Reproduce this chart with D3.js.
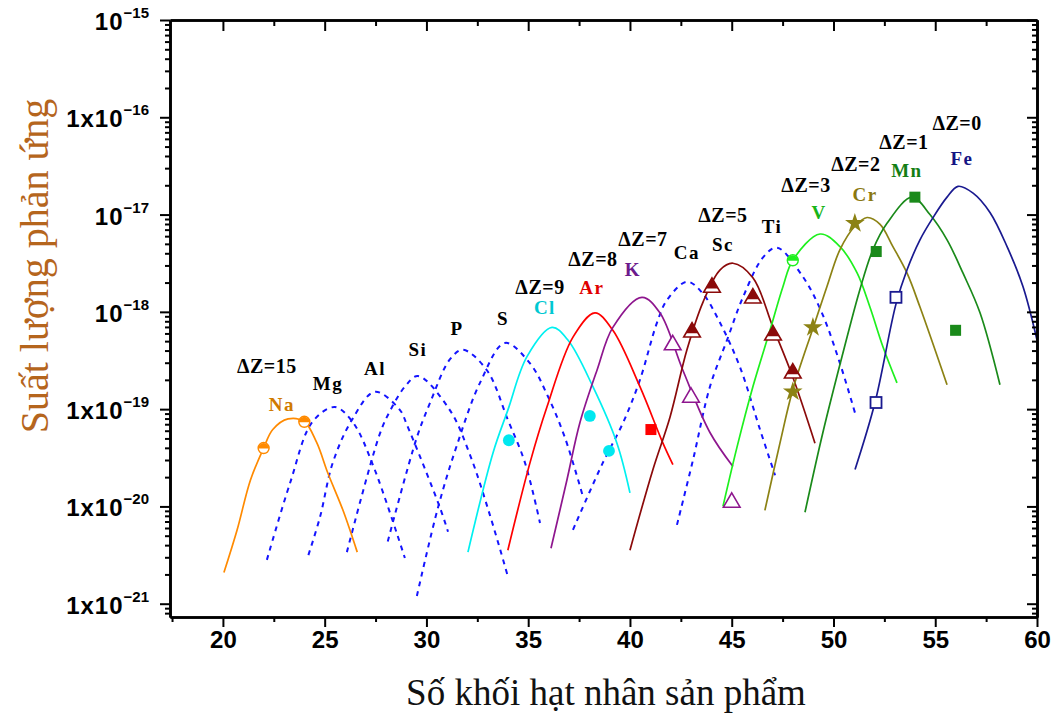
<!DOCTYPE html>
<html><head><meta charset="utf-8">
<script src="https://cdn.jsdelivr.net/npm/d3@7/dist/d3.min.js"></script>
<style>body{margin:0;background:#fff}</style>
</head><body><svg id="c" width="1056" height="722" xmlns="http://www.w3.org/2000/svg"></svg>
<script>
// ---------- data (mass number A, yield) ----------
const massTicks = [20, 25, 30, 35, 40, 45, 50, 55, 60];
const massMinorTicks = [17.5, 22.5, 27.5, 32.5, 37.5, 42.5, 47.5, 52.5, 57.5];
const yieldTicks = [1e-21, 1e-20, 1e-19, 1e-18, 1e-17, 1e-16, 1e-15];
const yieldTickPrefix = ["1x10", "1x10", "1x10", "10", "10", "1x10", "10"];
const yieldTickExp = ["\u221221", "\u221220", "\u221219", "\u221218", "\u221217", "\u221216", "\u221215"];

const curveNa = [[20.05,2.09e-21],[20.7,5.75e-21],[21.35,1.86e-20],[22.0,3.98e-20],[22.45,6.17e-20],[23.2,7.94e-20],[24.0,7.41e-20],[24.6,4.57e-20],[25.16,2.19e-20],[25.9,9.12e-21],[26.6,3.39e-21]];
const curveMg = [[22.16,2.82e-21],[23.3,1.74e-20],[24.4,7.41e-20],[25.5,1.05e-19],[26.4,7.24e-20],[27.4,2.57e-20],[28.94,2.95e-21]];
const curveAl = [[24.2,3.16e-21],[24.77,7.76e-21],[25.4,2.82e-20],[26.34,7.76e-20],[27.47,1.51e-19],[28.7,9.77e-20],[29.04,6.9e-20],[30.66,9.77e-21],[31.06,5.5e-21]];
const curveSi = [[26.09,3.39e-21],[27.7,5.5e-20],[28.2,9.5e-20],[28.94,1.7e-19],[29.58,2.19e-19],[31.15,9.77e-20],[32.14,3.39e-20],[33.12,8.13e-21],[34.0,1.91e-21]];
const curveP  = [[28.1,4.37e-21],[29.53,5.13e-20],[30.17,1.15e-19],[31.15,3.24e-19],[31.79,4.07e-19],[32.97,2.51e-19],[34.0,7.76e-20],[34.84,2.82e-20],[35.58,6.76e-21]];
const curveS  = [[29.53,1.2e-21],[30.57,9.77e-21],[31.5,4.27e-20],[32.63,1.86e-19],[33.86,4.79e-19],[35.09,2.95e-19],[35.97,1.35e-19],[36.8,5.13e-20],[37.69,1.26e-20]];
const curveCl = [[32.04,3.39e-21],[33.27,3.55e-20],[34.0,9.77e-20],[34.94,3.47e-19],[36.17,6.92e-19],[36.95,5.13e-19],[38.18,1.70e-19],[39.36,4.47e-20],[40.0,1.38e-20]];
const curveAr = [[34.0,3.55e-21],[35.09,2.82e-20],[35.92,1.05e-19],[37.2,5.5e-19],[38.28,9.77e-19],[39.16,6.46e-19],[40.49,1.70e-19],[41.62,4.47e-20],[42.11,2.69e-20]];
const curveK  = [[36.12,3.72e-21],[36.9,1.86e-20],[37.54,7.24e-20],[38.38,2.51e-19],[39.16,6.92e-19],[40.59,1.41e-18],[41.47,9.77e-19],[42.6,2.51e-19],[43.93,5.75e-20],[45.06,2.57e-20]];
const curveCa = [[37.2,5.75e-21],[38.67,2.82e-20],[39.66,7.24e-20],[40.49,2.0e-19],[41.33,7.76e-19],[41.82,1.32e-18],[42.8,2.04e-18],[43.54,1.58e-18],[44.42,7.76e-19],[45.41,2.69e-19],[46.39,6.17e-20],[47.13,2.09e-20]];
const curveSc = [[40.0,3.55e-21],[41.13,2.40e-20],[41.97,8.32e-20],[42.8,4.07e-19],[43.59,1.26e-18],[44.42,2.69e-18],[45.06,3.16e-18],[46.04,2.24e-18],[47.03,6.92e-19],[48.0,2.14e-19],[49.09,4.47e-20]];
const curveTi = [[42.31,6.46e-21],[43.1,3.02e-20],[43.93,1.70e-19],[44.77,5.13e-19],[45.55,1.41e-18],[46.54,3.63e-18],[47.22,4.57e-18],[48.5,2.29e-18],[49.43,9.77e-19],[50.32,2.95e-19],[51.06,9.12e-20]];
const curveV  = [[44.57,1.0e-20],[45.26,4.07e-20],[46.04,1.70e-19],[46.88,6.46e-19],[47.52,1.82e-18],[48.0,3.39e-18],[49.34,6.31e-18],[50.32,4.68e-18],[51.16,2.51e-18],[51.79,1.12e-18],[52.43,4.37e-19],[53.12,1.86e-19]];
const curveCr = [[46.63,9.12e-21],[47.37,4.47e-20],[48.0,1.58e-19],[48.99,6.76e-19],[49.68,1.82e-18],[50.32,4.37e-18],[51.05,7.59e-18],[51.65,9.33e-18],[52.29,7.94e-18],[52.92,4.68e-18],[53.61,2.51e-18],[54.25,1.12e-18],[55.58,1.78e-19]];
const curveMn = [[48.6,8.71e-21],[49.48,5.75e-20],[50.42,3.47e-19],[51.3,1.70e-18],[51.94,4.37e-18],[52.63,8.13e-18],[53.86,1.51e-17],[54.74,1.0e-17],[55.58,5.5e-18],[56.36,2.51e-18],[57.2,9.77e-19],[58.18,1.78e-19]];
const curveFe = [[51.06,2.40e-20],[52.04,1.17e-19],[53.07,1.2e-18],[53.61,2.69e-18],[54.25,5.5e-18],[54.89,9.3e-18],[55.58,1.51e-17],[56.12,1.95e-17],[56.86,1.66e-17],[57.69,1.05e-17],[58.53,4.68e-18],[59.31,1.82e-18],[60.0,5.13e-19]];

const markersNa = [[22.0,3.98e-20],[24.0,7.41e-20]];
const markersCl = [[34.05,4.79e-20],[38.03,8.51e-20],[38.97,3.72e-20]];
const markersAr = [[41.03,6.17e-20]];
const markersK  = [[42.1,4.57e-19],[43.0,1.32e-19],[45.0,1.10e-20]];
const markersSc = [[43.05,6.17e-19],[44.03,1.78e-18],[46.04,1.38e-18],[47.03,5.75e-19],[48.0,2.34e-19]];
const markersV  = [[48.0,3.39e-18]];
const markersCr = [[51.05,8.13e-18],[48.99,6.92e-19],[48.0,1.51e-19]];
const markersMn = [[54.0,1.51e-17],[52.1,4.17e-18],[56.0,6.46e-19]];
const markersFe = [[53.07,1.41e-18],[52.09,1.17e-19]];

const dzLabels = [["\u0394Z=15",22.16,2.78e-19],["\u0394Z=9",35.58,1.78e-18],["\u0394Z=8",38.18,3.47e-18],["\u0394Z=7",40.64,5.62e-18],["\u0394Z=5",44.57,1.0e-17],["\u0394Z=3",48.65,2.0e-17],["\u0394Z=2",51.1,3.31e-17],["\u0394Z=1",53.46,5.62e-17],["\u0394Z=0",56.07,8.71e-17]];
const elementLabels = [["Na",22.9,1.12e-19],["Mg",25.16,1.86e-19],["Al",27.47,2.63e-19],["Si",29.58,4.07e-19],["P",31.5,6.76e-19],["S",33.76,8.51e-19],["Cl",35.82,1.12e-18],["Ar",38.13,1.78e-18],["K",40.15,2.75e-18],["Ca",42.8,4.07e-18],["Sc",44.57,5.0e-18],["Ti",46.98,7.59e-18],["V",49.29,1.05e-17],["Cr",51.55,1.62e-17],["Mn",53.61,2.82e-17],["Fe",56.31,3.8e-17]];

// ---------- styles ----------
const DASHBLUE = "#1414ff";
const series = [
  {data: curveMg, color: DASHBLUE, dash: true},
  {data: curveAl, color: DASHBLUE, dash: true},
  {data: curveSi, color: DASHBLUE, dash: true},
  {data: curveP,  color: DASHBLUE, dash: true},
  {data: curveS,  color: DASHBLUE, dash: true},
  {data: curveCa, color: DASHBLUE, dash: true},
  {data: curveTi, color: DASHBLUE, dash: true},
  {data: curveNa, color: "#ff8a00"},
  {data: curveCl, color: "#00f0f0"},
  {data: curveAr, color: "#ff0000"},
  {data: curveK,  color: "#8e168e"},
  {data: curveSc, color: "#8b0a0a"},
  {data: curveV,  color: "#1ef01e"},
  {data: curveCr, color: "#8c8214"},
  {data: curveMn, color: "#1a8a1a"},
  {data: curveFe, color: "#1a1a90"}
];
const markerSets = [
  {data: markersNa, color: "#ff8a00", shape: "halfCircle"},
  {data: markersCl, color: "#00e8f0", shape: "circle"},
  {data: markersAr, color: "#ff0000", shape: "square"},
  {data: markersK,  color: "#8e168e", shape: "openTriangle"},
  {data: markersSc, color: "#8b0a0a", shape: "halfTriangle"},
  {data: markersV,  color: "#1ef01e", shape: "halfCircle"},
  {data: markersCr, color: "#8c8214", shape: "star"},
  {data: markersMn, color: "#1a8a1a", shape: "square"},
  {data: markersFe, color: "#1a1a90", shape: "openSquare"}
];
const labelColor = {Na: "#d07a00", Cl: "#00c8d2", Ar: "#e00000", K: "#6c1a8c", V: "#18b418", Cr: "#8a7810", Mn: "#147e14", Fe: "#141484"};

// ---------- chart ----------
const svg = d3.select("#c");
const L = 170, R = 1037, T = 20, B = 617;
const x = d3.scaleLinear().domain([17.4, 60]).range([L, R]);
const y = d3.scaleLog().domain([7.3e-22, 1e-15]).range([B, T]);

svg.append("defs").append("clipPath").attr("id", "clip")
  .append("rect").attr("x", L).attr("y", T).attr("width", R - L).attr("height", B - T);

const line = d3.line().x(d => x(d[0])).y(d => y(d[1])).curve(d3.curveCatmullRom.alpha(0.5));
svg.append("g").attr("clip-path", "url(#clip)")
  .selectAll("path").data(series).join("path")
  .attr("d", s => line(s.data))
  .attr("fill", "none")
  .attr("stroke", s => s.color)
  .attr("stroke-width", s => s.dash ? 2 : 1.7)
  .attr("stroke-dasharray", s => s.dash ? "5,5" : null);

// markers
const mg = svg.append("g");
markerSets.forEach(set => {
  const g = mg.selectAll(null).data(set.data).join("g")
    .attr("transform", d => `translate(${x(d[0])},${y(d[1])})`);
  const c = set.color;
  if (set.shape === "halfCircle") {
    g.append("circle").attr("r", 5.5).attr("fill", "#fff").attr("stroke", c).attr("stroke-width", 1.4);
    g.append("path").attr("d", "M-5.5,0.5A5.5,5.5 0 0 1 5.5,0.5Z").attr("fill", c);
  } else if (set.shape === "circle") {
    g.append("path").attr("d", d3.symbol(d3.symbolCircle, 110)).attr("fill", c);
  } else if (set.shape === "square") {
    g.append("rect").attr("x", -5.5).attr("y", -5.5).attr("width", 11).attr("height", 11).attr("fill", c);
  } else if (set.shape === "openSquare") {
    g.append("rect").attr("x", -5.5).attr("y", -5.5).attr("width", 11).attr("height", 11)
      .attr("fill", "#fff").attr("stroke", c).attr("stroke-width", 1.8);
  } else if (set.shape === "openTriangle") {
    g.append("path").attr("d", d3.symbol(d3.symbolTriangle, 120)).attr("fill", "#fff")
      .attr("stroke", c).attr("stroke-width", 1.6);
  } else if (set.shape === "halfTriangle") {
    g.append("path").attr("d", d3.symbol(d3.symbolTriangle, 120)).attr("fill", "#fff")
      .attr("stroke", c).attr("stroke-width", 1.6);
    g.append("path").attr("d", "M0,-9.6L-6.2,1L6.2,1Z").attr("fill", c);
  } else if (set.shape === "star") {
    g.append("path").attr("d", d3.symbol(d3.symbolStar, 120)).attr("fill", c);
  }
});

// axes
const axG = svg.append("g");
function styleAxis(sel) {
  sel.select(".domain").attr("stroke", "#000").attr("stroke-width", 2.6);
  sel.selectAll(".tick line").attr("stroke", "#000").attr("stroke-width", 2);
}
axG.append("g").attr("transform", `translate(0,${B})`)
  .call(d3.axisBottom(x).tickValues(massMinorTicks).tickSize(5).tickSizeOuter(0).tickFormat(""))
  .call(styleAxis);
const xb = axG.append("g").attr("transform", `translate(0,${B})`)
  .call(d3.axisBottom(x).tickValues(massTicks).tickSize(10).tickSizeOuter(0).tickFormat(d => d))
  .call(styleAxis);
xb.selectAll(".tick text").attr("y", 14).attr("dy", "0.71em")
  .attr("font-family", "'Liberation Sans Narrow','Liberation Sans',Arial,sans-serif")
  .attr("font-weight", "bold").attr("font-size", 24).attr("fill", "#000");

axG.append("g").attr("transform", `translate(0,${T})`)
  .call(d3.axisTop(x).tickValues(massMinorTicks.filter(v => v > 18)).tickSize(-6).tickSizeOuter(0).tickFormat(""))
  .call(styleAxis);
axG.append("g").attr("transform", `translate(0,${T})`)
  .call(d3.axisTop(x).tickValues(massTicks).tickSize(-11).tickSizeOuter(0).tickFormat(""))
  .call(styleAxis);

const yMinor = y.ticks().filter(v => Math.abs(Math.log10(v) - Math.round(Math.log10(v))) > 1e-6);
axG.append("g").attr("transform", `translate(${L},0)`)
  .call(d3.axisLeft(y).tickValues(yMinor).tickSize(5).tickSizeOuter(0).tickFormat(""))
  .call(styleAxis);
axG.append("g").attr("transform", `translate(${L},0)`)
  .call(d3.axisLeft(y).tickValues(yieldTicks).tickSize(10).tickSizeOuter(0).tickFormat(""))
  .call(styleAxis);
axG.append("g").attr("transform", `translate(${R},0)`)
  .call(d3.axisRight(y).tickValues(yMinor).tickSize(-5).tickSizeOuter(0).tickFormat(""))
  .call(styleAxis);
axG.append("g").attr("transform", `translate(${R},0)`)
  .call(d3.axisRight(y).tickValues(yieldTicks).tickSize(-10).tickSizeOuter(0).tickFormat(""))
  .call(styleAxis);

// y tick labels
const yl = svg.append("g")
  .attr("font-family", "'Liberation Sans Narrow','Liberation Sans',Arial,sans-serif")
  .attr("font-weight", "bold").attr("fill", "#000");
yieldTicks.forEach((v, i) => {
  const t = yl.append("text").attr("x", 149).attr("y", y(v) + 10).attr("text-anchor", "end")
    .attr("font-size", 24).attr("letter-spacing", 1);
  t.append("tspan").text(yieldTickPrefix[i]);
  t.append("tspan").attr("dy", -12).attr("font-size", 15).attr("letter-spacing", 0).text(yieldTickExp[i]);
});

// annotations
const ann = svg.append("g").attr("font-family", "'Liberation Serif','Times New Roman',serif")
  .attr("font-weight", "bold").attr("text-anchor", "middle");
ann.selectAll(".dz").data(dzLabels).join("text").attr("class", "dz")
  .attr("x", d => x(d[1])).attr("y", d => y(d[2])).attr("dy", "0.35em")
  .attr("font-size", 20).attr("letter-spacing", 0.5).attr("fill", "#000").text(d => d[0]);
ann.selectAll(".el").data(elementLabels).join("text").attr("class", "el")
  .attr("x", d => x(d[1])).attr("y", d => y(d[2])).attr("dy", "0.35em")
  .attr("font-size", 19).attr("letter-spacing", 1.5)
  .attr("fill", d => labelColor[d[0]] || "#000").text(d => d[0]);

// axis titles
svg.append("text").attr("x", 606).attr("y", 705).attr("text-anchor", "middle")
  .attr("font-family", "'Liberation Serif','Times New Roman',serif").attr("font-size", 37)
  .attr("fill", "#111").text("Số khối hạt nhân sản phẩm");
svg.append("text").attr("transform", "translate(48,266) rotate(-90)").attr("text-anchor", "middle")
  .attr("font-family", "'Liberation Serif','Times New Roman',serif").attr("font-size", 40)
  .attr("fill", "#b5651d").text("Suất lượng phản ứng");
</script></body></html>
